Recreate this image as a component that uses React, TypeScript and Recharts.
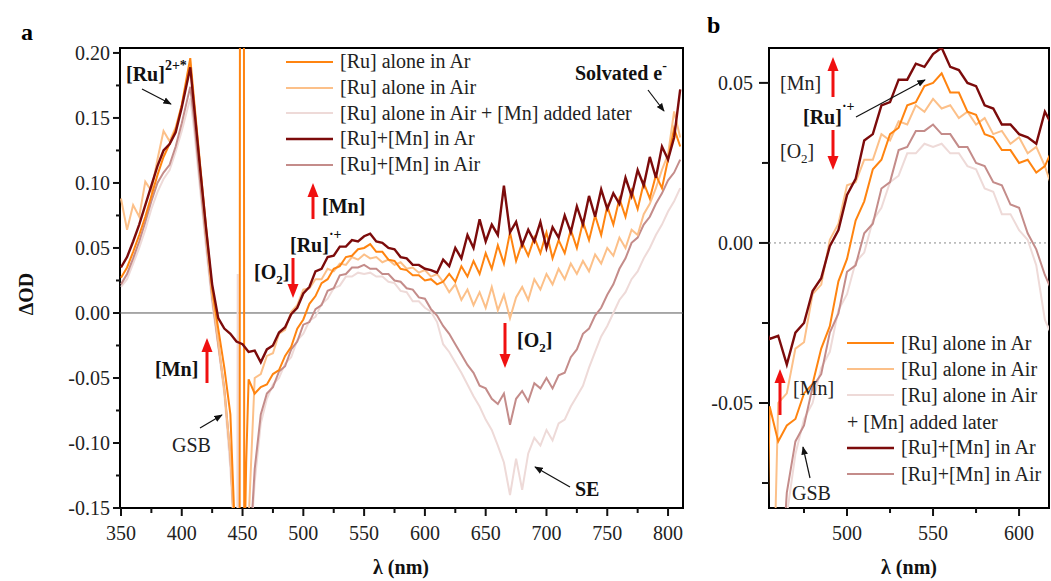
import { Legend, Line, LineChart, ReferenceArea, ReferenceLine, XAxis, YAxis } from "recharts";

const FONT = "'Liberation Serif', 'Times New Roman', serif";

// wavelength grid (nm), 5 nm steps plus the Ru2+* maximum
const WAVELENGTH = [
  350, 355, 360, 365, 370, 375, 380, 385, 390, 395,
  400, 405, 407, 410, 415, 420, 425, 430, 435, 440,
  445, 450, 455, 460, 465, 470, 475, 480, 485, 490,
  495, 500, 505, 510, 515, 520, 525, 530, 535, 540,
  545, 550, 555, 560, 565, 570, 575, 580, 585, 590,
  595, 600, 605, 610, 615, 620, 625, 630, 635, 640,
  645, 650, 655, 660, 665, 670, 675, 680, 685, 690,
  695, 700, 705, 710, 715, 720, 725, 730, 735, 740,
  745, 750, 755, 760, 765, 770, 775, 780, 785, 790,
  795, 800, 805, 810,
];

const RU_AR = [
  0.027, 0.035, 0.047, 0.06, 0.074, 0.09, 0.106, 0.12, 0.13, 0.141,
  0.16, 0.186, 0.196, 0.165, 0.115, 0.066, 0.018, -0.012, -0.042, -0.078,
  -0.2, 0.3, -0.051, -0.062, -0.057, -0.055, -0.047, -0.044, -0.033, -0.026,
  -0.012, -0.005, 0.007, 0.013, 0.023, 0.026, 0.034, 0.036, 0.043, 0.044,
  0.049, 0.05, 0.053, 0.047, 0.047, 0.041, 0.04, 0.034, 0.033, 0.029,
  0.029, 0.025, 0.026, 0.022, 0.024, 0.03, 0.024, 0.036, 0.028, 0.04,
  0.03, 0.046, 0.034, 0.052, 0.038, 0.062, 0.04, 0.054, 0.044, 0.058,
  0.046, 0.062, 0.042, 0.056, 0.046, 0.064, 0.05, 0.07, 0.056, 0.075,
  0.06, 0.082, 0.068, 0.088, 0.074, 0.094, 0.08, 0.1, 0.088, 0.106,
  0.096, 0.118, 0.142, 0.128,
];
// pump scatter spike around 450 nm
const RU_AR_SPIKE_WL = [447.6, 447.9, 451.1, 451.4, 453];
const RU_AR_SPIKE_OD = [-0.2, 0.3, 0.3, -0.2, -0.115];

const RU_AIR = [
  0.088, 0.064, 0.083, 0.074, 0.101, 0.094, 0.118, 0.14, 0.132, 0.143,
  0.16, 0.182, 0.19, 0.16, 0.11, 0.06, 0.014, -0.022, -0.06, -0.11,
  -0.2, -0.2, -0.16, -0.05, -0.047, -0.033, -0.031, -0.016, -0.013, 0.001,
  0.006, 0.018, 0.019, 0.026, 0.026, 0.034, 0.032, 0.038, 0.037, 0.043,
  0.041, 0.045, 0.042, 0.043, 0.039, 0.041, 0.037, 0.039, 0.034, 0.035,
  0.031, 0.033, 0.028, 0.03, 0.024, 0.016, 0.022, 0.01, 0.018, 0.006,
  0.016, 0.004, 0.02, 0.002, 0.014, -0.004, 0.012, 0.02, 0.01, 0.026,
  0.018, 0.03, 0.022, 0.034, 0.026, 0.038, 0.03, 0.04, 0.032, 0.045,
  0.038, 0.05, 0.044, 0.058, 0.05, 0.064, 0.06, 0.076, 0.084, 0.096,
  0.11, 0.122, 0.155, 0.135,
];

const RU_AIR_MN_LATER = [
  0.02, 0.026, 0.038, 0.05, 0.064, 0.08, 0.093, 0.103, 0.11, 0.124,
  0.14, 0.158, 0.165, 0.142, 0.096, 0.05, 0.008, -0.026, -0.062, -0.12,
  -0.2, -0.2, -0.2, -0.13, -0.085, -0.066, -0.055, -0.05, -0.039, -0.034,
  -0.021, -0.016, -0.006, -0.003, 0.007, 0.011, 0.019, 0.021, 0.028, 0.028,
  0.031, 0.03, 0.031, 0.028, 0.028, 0.024, 0.023, 0.017, 0.016, 0.009,
  0.009, 0.004, 0.001, -0.007, -0.024, -0.03, -0.038, -0.046, -0.055, -0.064,
  -0.072, -0.082, -0.09, -0.102, -0.115, -0.14, -0.112, -0.136, -0.108, -0.096,
  -0.102, -0.09, -0.098, -0.085, -0.082, -0.072, -0.064, -0.056, -0.042, -0.03,
  -0.018, -0.01, 0.0, 0.01, 0.016, 0.026, 0.032, 0.042, 0.05, 0.06,
  0.068, 0.078, 0.086, 0.096,
];
const RU_AIR_MN_SPIKE_WL = [445.7, 446, 446.3];
const RU_AIR_MN_SPIKE_OD = [-0.2, 0.03, -0.2];

const RU_MN_AR = [
  0.035, 0.043, 0.055, 0.068, 0.083, 0.098, 0.113, 0.125, 0.13, 0.139,
  0.158, 0.18, 0.189, 0.16, 0.112, 0.065, 0.022, -0.004, -0.012, -0.016,
  -0.022, -0.024, -0.03, -0.029, -0.038, -0.028, -0.025, -0.015, -0.011, -0.001,
  0.004, 0.015, 0.02, 0.032, 0.034, 0.043, 0.044, 0.051, 0.051, 0.056,
  0.055, 0.059, 0.061, 0.055, 0.054, 0.05, 0.049, 0.043, 0.042, 0.037,
  0.037, 0.034, 0.033, 0.031, 0.041, 0.036, 0.05, 0.042, 0.06, 0.05,
  0.072, 0.055, 0.068, 0.06, 0.098, 0.062, 0.07, 0.052, 0.064, 0.055,
  0.07, 0.05, 0.066, 0.058, 0.075, 0.062, 0.082, 0.068, 0.09, 0.074,
  0.095, 0.08, 0.092, 0.084, 0.104, 0.09, 0.11, 0.098, 0.12, 0.104,
  0.128, 0.118, 0.135, 0.172,
];

const RU_MN_AIR = [
  0.022, 0.03, 0.042, 0.055, 0.07, 0.086, 0.1, 0.108, 0.114, 0.128,
  0.146, 0.166, 0.174, 0.15, 0.102, 0.056, 0.012, -0.024, -0.058, -0.11,
  -0.2, -0.2, -0.2, -0.12, -0.078, -0.062, -0.057, -0.045, -0.041, -0.028,
  -0.022, -0.009, -0.007, 0.003, 0.006, 0.017, 0.019, 0.029, 0.03, 0.035,
  0.035, 0.037, 0.034, 0.034, 0.03, 0.03, 0.025, 0.024, 0.019, 0.018,
  0.012, 0.011, 0.003, -0.002, -0.01, -0.016, -0.024, -0.032, -0.04, -0.046,
  -0.056, -0.058, -0.066, -0.07, -0.062, -0.086, -0.066, -0.06, -0.068, -0.054,
  -0.058, -0.05, -0.058, -0.048, -0.046, -0.034, -0.028, -0.016, -0.012, -0.002,
  0.004, 0.014, 0.022, 0.034, 0.042, 0.054, 0.058, 0.068, 0.074, 0.084,
  0.092, 0.102, 0.108, 0.118,
];

const A_X_TICKS = [350, 375, 400, 425, 450, 475, 500, 525, 550, 575, 600, 625, 650, 675, 700, 725, 750, 775, 800];
const A_Y_TICKS = [-0.15, -0.125, -0.1, -0.075, -0.05, -0.025, 0, 0.025, 0.05, 0.075, 0.1, 0.125, 0.15, 0.175, 0.2];
const B_X_TICKS = [475, 500, 525, 550, 575, 600];
const B_Y_TICKS = [-0.075, -0.05, -0.025, 0, 0.025, 0.05];

type Point = { x: number; y: number };

function buildSeries(values: number[], extraX: number[] = [], extraY: number[] = []): Point[] {
  const pts = WAVELENGTH.map((x, i) => ({ x, y: values[i] }));
  extraX.forEach((x, i) => pts.push({ x, y: extraY[i] }));
  return pts.sort((a, b) => a.x - b.x);
}

const SERIES = [
  { key: "ar", name: "[Ru] alone in Ar", color: "#ff8410", width: 2, data: buildSeries(RU_AR, RU_AR_SPIKE_WL, RU_AR_SPIKE_OD) },
  { key: "air", name: "[Ru] alone in Air", color: "#fcc089", width: 2, data: buildSeries(RU_AIR) },
  { key: "later", name: "[Ru] alone in Air + [Mn] added later", color: "#eedad8", width: 2, data: buildSeries(RU_AIR_MN_LATER, RU_AIR_MN_SPIKE_WL, RU_AIR_MN_SPIKE_OD) },
  { key: "mnar", name: "[Ru]+[Mn] in Ar", color: "#7c0b0b", width: 2.4, data: buildSeries(RU_MN_AR) },
  { key: "mnair", name: "[Ru]+[Mn] in Air", color: "#c48c8a", width: 2, data: buildSeries(RU_MN_AIR) },
];
// bottom to top
const DRAW_ORDER = ["later", "mnair", "air", "ar", "mnar"];

const isMajor = (v: number, step: number) => Math.abs(v / step - Math.round(v / step)) < 1e-6;

const serif = { fontFamily: FONT } as const;

function makeXTick(step: number) {
  return (props: any) => {
    const { x, y, payload } = props;
    const major = isMajor(payload.value, step);
    return (
      <g>
        <line x1={x} x2={x} y1={y} y2={y + (major ? 8 : 5)} stroke="#111" strokeWidth={2} />
        {major && (
          <text x={x} y={y + 32} textAnchor="middle" fontSize={20} fill="#222" style={serif}>
            {payload.value}
          </text>
        )}
      </g>
    );
  };
}

function makeYTick(step: number, gap: number, len: number) {
  return (props: any) => {
    const { x, y, payload } = props;
    const major = isMajor(payload.value, step);
    return (
      <g>
        <line x1={x - (major ? len : len - 3)} x2={x} y1={y} y2={y} stroke="#111" strokeWidth={2} />
        {major && (
          <text x={x - gap} y={y} dy="0.35em" textAnchor="end" fontSize={20} fill="#222" style={serif}>
            {payload.value.toFixed(2)}
          </text>
        )}
      </g>
    );
  };
}

function LegendSwatch({ color, width }: { color: string; width: number }) {
  return (
    <svg width={54} height={6} style={{ flex: "none" }}>
      <line x1={0} x2={47} y1={3} y2={3} stroke={color} strokeWidth={width} />
    </svg>
  );
}

function LegendA() {
  return (
    <div style={{ fontFamily: FONT, fontSize: 20, color: "#222", whiteSpace: "nowrap" }}>
      {SERIES.map((s) => (
        <div key={s.key} style={{ display: "flex", alignItems: "center", height: 25.7 }}>
          <LegendSwatch color={s.color} width={s.width} />
          <span>{s.name}</span>
        </div>
      ))}
    </div>
  );
}

function LegendB() {
  return (
    <div style={{ fontFamily: FONT, fontSize: 20, color: "#222", whiteSpace: "nowrap" }}>
      {SERIES.map((s) => (
        <div key={s.key}>
          <div style={{ display: "flex", alignItems: "center", height: 26.2 }}>
            <LegendSwatch color={s.color} width={s.width} />
            <span>{s.key === "later" ? "[Ru] alone in Air" : s.name}</span>
          </div>
          {s.key === "later" && <div style={{ height: 26.2, lineHeight: "26.2px" }}>+ [Mn] added later</div>}
        </div>
      ))}
    </div>
  );
}

function Panel(props: {
  width: number;
  margin: { top: number; right: number; bottom: number; left: number };
  xDomain: [number, number];
  yDomain: [number, number];
  xTicks: number[];
  yTicks: number[];
  yGap: number;
  yLen: number;
  zeroDash?: string;
  legend: React.ReactNode;
  legendPos: { left: number; top: number };
}) {
  const { width, margin, xDomain, yDomain, xTicks, yTicks } = props;
  return (
    <LineChart width={width} height={581} margin={margin}>
      <XAxis
        type="number"
        dataKey="x"
        domain={xDomain}
        allowDataOverflow
        ticks={xTicks}
        interval={0}
        tickSize={0}
        tickMargin={0}
        axisLine={false}
        tickLine={false}
        tick={makeXTick(50)}
        height={40}
      />
      <YAxis
        type="number"
        dataKey="y"
        domain={yDomain}
        allowDataOverflow
        ticks={yTicks}
        interval={0}
        tickSize={0}
        tickMargin={0}
        axisLine={false}
        tickLine={false}
        tick={makeYTick(0.05, props.yGap, props.yLen)}
        width={60}
      />
      <ReferenceLine
        y={0}
        stroke={props.zeroDash ? "#8a8a8a" : "#555"}
        strokeWidth={1}
        strokeDasharray={props.zeroDash}
      />
      {DRAW_ORDER.map((k) => {
        const s = SERIES.find((q) => q.key === k)!;
        return (
          <Line
            key={s.key}
            data={s.data}
            dataKey="y"
            type="linear"
            stroke={s.color}
            strokeWidth={s.width}
            dot={false}
            activeDot={false}
            isAnimationActive={false}
          />
        );
      })}
      <ReferenceArea
        x1={xDomain[0]}
        x2={xDomain[1]}
        y1={yDomain[0]}
        y2={yDomain[1]}
        fill="none"
        fillOpacity={0}
        stroke="#000"
        strokeWidth={2}
        ifOverflow="visible"
      />
      <Legend
        layout="vertical"
        align="center"
        verticalAlign="middle"
        content={() => props.legend}
        wrapperStyle={{ left: props.legendPos.left, top: props.legendPos.top, width: "auto" }}
      />
    </LineChart>
  );
}

function RedArrow({ x, from, to }: { x: number; from: number; to: number }) {
  const dir = to < from ? -1 : 1;
  const head = 14;
  return (
    <g>
      <line x1={x} x2={x} y1={from} y2={to - dir * head} stroke="#f01010" strokeWidth={3} />
      <polygon points={`${x - 5.5},${to - dir * head} ${x + 5.5},${to - dir * head} ${x},${to}`} fill="#f01010" />
    </g>
  );
}

function Pointer({ x1, y1, x2, y2 }: { x1: number; y1: number; x2: number; y2: number }) {
  return <line x1={x1} y1={y1} x2={x2} y2={y2} stroke="#111" strokeWidth={1.2} markerEnd="url(#tip)" />;
}

function Annotations() {
  const bold = { fontSize: 20, fontWeight: 700, fill: "#111", style: serif } as const;
  const reg = { fontSize: 20, fill: "#222", style: serif } as const;
  return (
    <svg width={1051} height={581} style={{ position: "absolute", left: 0, top: 0, pointerEvents: "none" }}>
      <defs>
        <marker id="tip" viewBox="0 0 10 10" refX="9" refY="5" markerWidth="7" markerHeight="7" orient="auto">
          <path d="M0,1 L10,5 L0,9 z" fill="#111" />
        </marker>
      </defs>

      <text x={21} y={40} fontSize={24} fontWeight={700} style={serif}>a</text>
      <text x={707} y={33} fontSize={24} fontWeight={700} style={serif}>b</text>

      <text transform="translate(33,294) rotate(-90)" textAnchor="middle" {...bold}>ΔOD</text>
      <text x={401} y={574} textAnchor="middle" {...bold}>λ (nm)</text>
      <text x={909} y={574} textAnchor="middle" {...bold}>λ (nm)</text>

      {/* panel a */}
      <text x={126} y={81} {...bold}>
        [Ru]<tspan dy={-11} fontSize={14}>2+*</tspan>
      </text>
      <Pointer x1={142} y1={89} x2={171} y2={104} />

      <RedArrow x={313} from={219} to={183} />
      <text x={322} y={213} {...bold}>[Mn]</text>
      <text x={290} y={252} {...bold}>
        [Ru]<tspan dy={-13} fontSize={14}>·+</tspan>
      </text>
      <text x={254} y={279} {...bold}>
        [O<tspan dy={5} fontSize={13}>2</tspan>
        <tspan dy={-5}>]</tspan>
      </text>
      <RedArrow x={293} from={258} to={298} />

      <text x={155} y={376} {...bold}>[Mn]</text>
      <RedArrow x={207} from={383} to={338} />
      <text x={172} y={452} {...reg}>GSB</text>
      <Pointer x1={200} y1={428} x2={222} y2={415} />

      <RedArrow x={505} from={323} to={368} />
      <text x={517} y={347} {...bold}>
        [O<tspan dy={5} fontSize={13}>2</tspan>
        <tspan dy={-5}>]</tspan>
      </text>
      <text x={575} y={496} {...bold}>SE</text>
      <Pointer x1={570} y1={487} x2={535} y2={467} />

      <text x={575} y={80} {...bold}>
        Solvated e<tspan dy={-10} fontSize={14}>-</tspan>
      </text>
      <Pointer x1={648} y1={90} x2={664} y2={111} />

      {/* panel b */}
      <text x={780} y={90} {...reg}>[Mn]</text>
      <RedArrow x={833} from={97} to={57} />
      <text x={803} y={124} {...bold}>
        [Ru]<tspan dy={-13} fontSize={14}>·+</tspan>
      </text>
      <Pointer x1={856} y1={117} x2={925} y2={80} />
      <text x={780} y={158} {...reg}>
        [O<tspan dy={5} fontSize={13}>2</tspan>
        <tspan dy={-5}>]</tspan>
      </text>
      <RedArrow x={833} from={130} to={170} />

      <text x={793} y={395} {...reg}>[Mn]</text>
      <RedArrow x={780} from={415} to={369} />
      <text x={792} y={500} {...reg}>GSB</text>
      <Pointer x1={810} y1={478} x2={803} y2={447} />
    </svg>
  );
}

export default function App() {
  return (
    <div
      style={{
        position: "absolute",
        left: 0,
        top: 0,
        width: 1051,
        height: 581,
        background: "#fff",
        overflow: "hidden",
        fontFamily: FONT,
      }}
    >
      <div style={{ position: "absolute", left: 0, top: 0 }}>
        <Panel
          width={700}
          margin={{ top: 48, right: 17, bottom: 33, left: 60 }}
          xDomain={[349.2, 812.3]}
          yDomain={[-0.15, 0.2038]}
          xTicks={A_X_TICKS}
          yTicks={A_Y_TICKS}
          yGap={10}
          yLen={7}
          legend={<LegendA />}
          legendPos={{ left: 286, top: 49 }}
        />
      </div>
      <div style={{ position: "absolute", left: 700, top: 0 }}>
        <Panel
          width={351}
          margin={{ top: 48, right: 2, bottom: 33, left: 9 }}
          xDomain={[454.65, 617.4]}
          yDomain={[-0.0828, 0.0609]}
          xTicks={B_X_TICKS}
          yTicks={B_Y_TICKS}
          yGap={16}
          yLen={10}
          zeroDash="2 3"
          legend={<LegendB />}
          legendPos={{ left: 147, top: 330 }}
        />
      </div>
      <Annotations />
    </div>
  );
}
